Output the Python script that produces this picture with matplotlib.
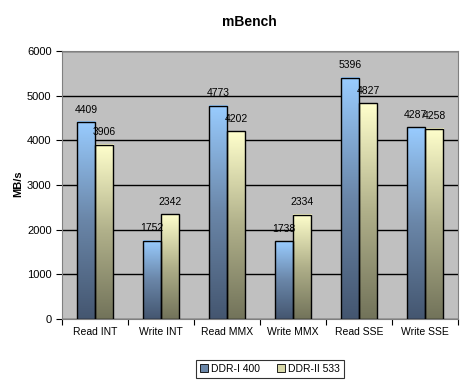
import numpy as np
import matplotlib.pyplot as plt
from matplotlib.colors import LinearSegmentedColormap
from matplotlib.patches import Rectangle, Patch

plt.rcParams['font.family'] = ['Liberation Sans', 'DejaVu Sans']

categories = ["Read INT", "Write INT", "Read MMX", "Write MMX", "Read SSE", "Write SSE"]
ddr1 = [4409, 1752, 4773, 1738, 5396, 4287]
ddr2 = [3906, 2342, 4202, 2334, 4827, 4258]
series_names = ["DDR-I 400", "DDR-II 533"]

blue_cmap = LinearSegmentedColormap.from_list("b", ["#445670", "#6A86A8", "#99CCFF"])
yellow_cmap = LinearSegmentedColormap.from_list("y", ["#72735A", "#B0B08A", "#FFFFCC"])

fig = plt.figure(figsize=(4.68, 3.83), dpi=100)
ax = fig.add_axes([0.1325, 0.167, 0.846, 0.7])
ax.set_facecolor("#C0C0C0")

w = 0.275
grad = np.linspace(0, 1, 256).reshape(-1, 1)

def draw_bar(x0, h, cmap):
    ax.imshow(grad, extent=[x0, x0 + w, 0, h], origin="lower", cmap=cmap,
              aspect="auto", zorder=2)
    ax.add_patch(Rectangle((x0, 0), w, h, fill=False, edgecolor="black",
                           linewidth=1, zorder=3))

for i in range(len(categories)):
    draw_bar(i - w, ddr1[i], blue_cmap)
    draw_bar(i, ddr2[i], yellow_cmap)
    ax.annotate(str(ddr1[i]), (i - w / 2, ddr1[i]), xytext=(0, 9),
                textcoords="offset points", ha="center", va="center", fontsize=7.5)
    ax.annotate(str(ddr2[i]), (i + w / 2, ddr2[i]), xytext=(0, 9),
                textcoords="offset points", ha="center", va="center", fontsize=7.5)

ax.set_xlim(-0.5, len(categories) - 0.5)
ax.set_ylim(0, 6000)
ax.set_yticks(range(0, 6001, 1000))
ax.yaxis.grid(True, color="black", linewidth=1)
ax.set_axisbelow(True)

ax.set_xticks(np.arange(-0.5, len(categories), 1))
ax.set_xticklabels([])
ax.set_xticks(range(len(categories)), minor=True)
ax.set_xticklabels(categories, minor=True)
ax.tick_params(axis="x", which="minor", length=0, labelsize=7.5, pad=6)
ax.tick_params(axis="x", which="major", length=4, color="black")
ax.tick_params(axis="y", labelsize=8, length=4)

for side in ["top", "right", "left", "bottom"]:
    ax.spines[side].set_color("#808080")

fig.text(0.532, 0.943, "mBench", fontsize=10, fontweight="bold", ha="center", va="center")
fig.text(0.038, 0.52, "MB/s", fontsize=8, fontweight="bold", rotation=90,
         ha="center", va="center")

handles = [Patch(facecolor="#6A86A8", edgecolor="black", linewidth=0.6),
           Patch(facecolor="#D8D8A8", edgecolor="black", linewidth=0.6)]
leg = fig.legend(handles, series_names, loc="center", bbox_to_anchor=(0.577, 0.037),
                 ncol=2, fontsize=7.5, frameon=True, fancybox=False,
                 handlelength=0.8, handleheight=0.8, handletextpad=0.3,
                 columnspacing=1.6, borderpad=0.4)
leg.get_frame().set_edgecolor("black")
leg.get_frame().set_linewidth(0.8)

fig.savefig("out.png", dpi=100)
